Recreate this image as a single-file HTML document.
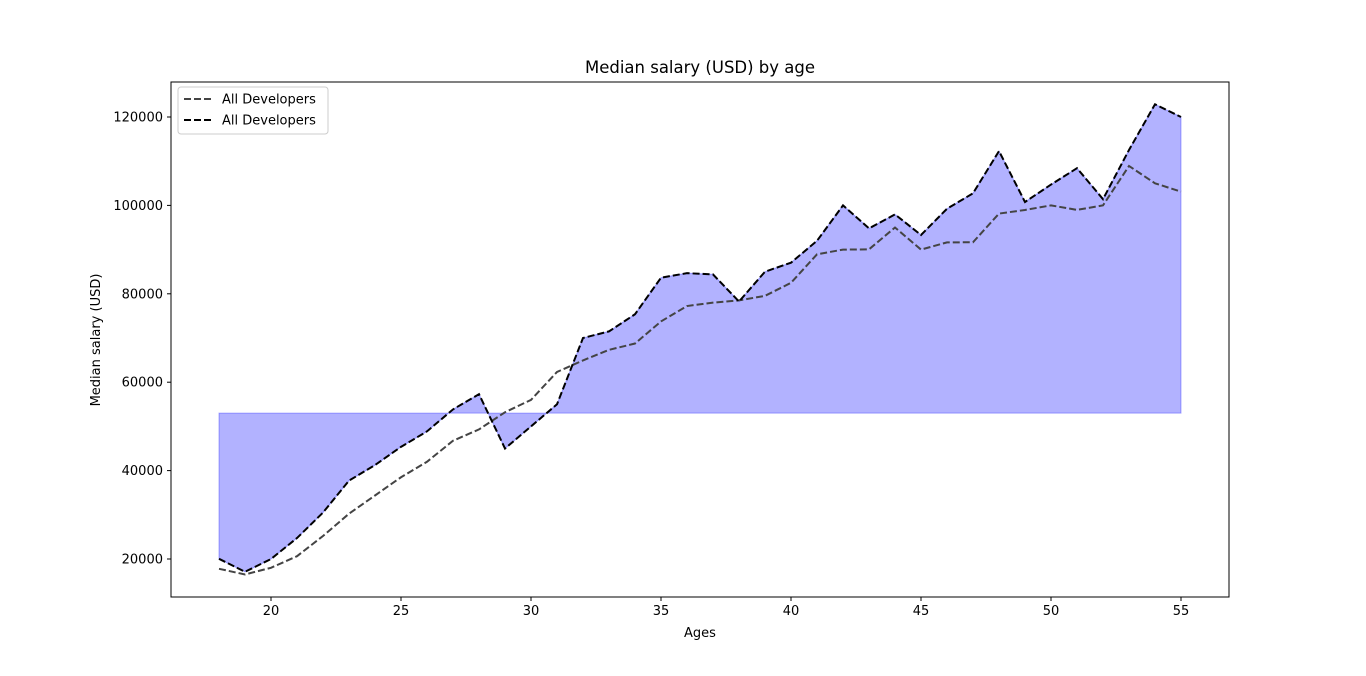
<!DOCTYPE html>
<html><head><meta charset="utf-8"><style>
body{margin:0;background:#fff;font-family:"Liberation Sans","DejaVu Sans",sans-serif;}
svg text{font-family:"DejaVu Sans","Liberation Sans",sans-serif;}
</style></head><body>
<svg id="chart" width="1366" height="671">
<rect x="0" y="0" width="1366" height="671" fill="#fff"/>
<g id="plot"></g>
</svg>
<script>
const ages=[18,19,20,21,22,23,24,25,26,27,28,29,30,31,32,33,34,35,36,37,38,39,40,41,42,43,44,45,46,47,48,49,50,51,52,53,54,55];
const devSalaries=[17784,16500,18012,20628,25206,30252,34368,38496,42000,46752,49320,53200,56000,62316,64928,67317,68748,73752,77232,78000,78508,79536,82488,88935,90000,90056,95000,90000,91633,91660,98150,98964,100000,98988,100000,108923,105000,103117];
const pyDevSalaries=[20046,17100,20000,24744,30500,37732,41247,45372,48876,53850,57287,45000,50000,55000,70000,71496,75370,83640,84666,84392,78254,85000,87038,91991,100000,94796,97962,93302,99240,102736,112285,100771,104708,108423,101407,112542,122870,120000];
const medianSalary=[53000];
const xTicks=[20,25,30,35,40,45,50,55];
const yTicks=[20000,40000,60000,80000,100000,120000];
const L=171,R=1229,T=82,B=597;
const X=a=>219+(a-18)*(1181-219)/37;
const Y=v=>559-(v-20000)*(559-117)/100000;
const NS='http://www.w3.org/2000/svg';
const g=document.getElementById('plot');
function el(t,a,txt){const e=document.createElementNS(NS,t);for(const k in a)e.setAttribute(k,a[k]);if(txt!==undefined)e.textContent=txt;g.appendChild(e);return e;}
let d='M'+X(ages[0])+','+Y(medianSalary[0]);
ages.forEach((a,i)=>d+=' L'+X(a)+','+Y(pyDevSalaries[i]));
d+=' L'+X(ages[ages.length-1])+','+Y(medianSalary[0])+' Z';
const f=el('path',{d:d,fill:'#0000ff','fill-opacity':0.3,stroke:'#0000ff','stroke-opacity':0.3});


function line(vals,color,name){
 const p=el('polyline',{points:ages.map((a,i)=>X(a)+','+Y(vals[i])).join(' '),fill:'none',stroke:color,'stroke-width':2,'stroke-dasharray':'7,3'});
 
 
}
line(devSalaries,'#444444','all-devs-line');
line(pyDevSalaries,'#000000','python-devs-line');
const fr=el('rect',{x:L,y:T,width:R-L,height:B-T,fill:'none',stroke:'#000','stroke-width':1});


xTicks.forEach(t=>{
 el('line',{x1:X(t),x2:X(t),y1:B,y2:B+4,stroke:'#000'});
 const tx=el('text',{x:X(t),y:B+18,'text-anchor':'middle','font-size':13},t);
 
 
});
yTicks.forEach(t=>{
 el('line',{x1:L-4,x2:L,y1:Y(t),y2:Y(t),stroke:'#000'});
 const tx=el('text',{x:L-8,y:Y(t)+4.5,'text-anchor':'end','font-size':13},t);
 
 
});
const ti=el('text',{x:700,y:73,'text-anchor':'middle','font-size':16.5},'Median salary (USD) by age');


const xl=el('text',{x:700,y:637,'text-anchor':'middle','font-size':13},'Ages');


const yl=el('text',{x:0,y:0,'text-anchor':'middle','font-size':13,transform:'translate(100,340) rotate(-90)'},'Median salary (USD)');


const lg=el('rect',{x:178,y:87,width:150,height:47,rx:3,fill:'#fff','fill-opacity':0.8,stroke:'#ccc'});


[['#444444',99],['#000000',120]].forEach(([c,y])=>{
 el('line',{x1:184,x2:212,y1:y,y2:y,stroke:c,'stroke-width':2,'stroke-dasharray':'7,3'});
 const t=el('text',{x:222,y:y+4.5,'font-size':13},'All Developers');
 
 
});
</script>
</body></html>
